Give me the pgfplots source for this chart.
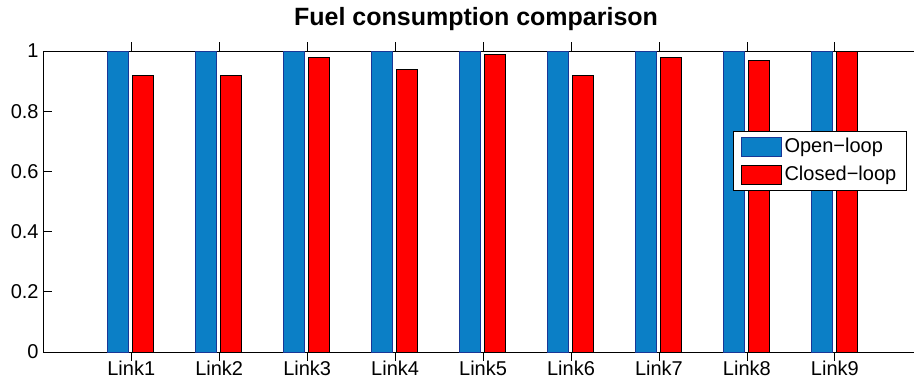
\documentclass[border=0pt]{standalone}
\usepackage{pgfplots}
\pgfplotsset{compat=1.18}
\usepackage{fontspec}
\setmainfont{Liberation Sans}
\definecolor{openblue}{RGB}{11,127,198}
\definecolor{openedge}{RGB}{25,55,150}
\begin{document}
\begin{tikzpicture}
\useasboundingbox (-32.5pt,-20.25pt) rectangle (653pt,264pt);
\begin{axis}[
  at={(0,0)}, anchor=south west,
  scale only axis,
  width=653pt, height=225.75pt,
  xmin=0, xmax=9.9, ymin=0, ymax=1,
  axis x line=box, axis y line=left,
  axis line style={-, line width=0.7pt, black},
  tick align=inside,
  xtick pos=both, ytick pos=left,
  major tick length=6.5pt,
  tick style={line width=0.6pt, black},
  xtick={1,2,3,4,5,6,7,8,9},
  xticklabels={Link1,Link2,Link3,Link4,Link5,Link6,Link7,Link8,Link9},
  ytick={0,0.2,0.4,0.6,0.8,1},
  /pgf/number format/assume math mode=true,
  ticklabel style={font=\fontsize{15}{18}\selectfont},
  xticklabel style={yshift=3.5pt},
  title={\textbf{Fuel consumption comparison}},
  title style={font=\fontsize{18.75}{22}\selectfont, at={(0.497,1)}, anchor=base, yshift=13.5pt},
  ybar, bar width=0.236,
  clip=true,
  legend style={at={(0.9916,0.735)}, anchor=north east, draw=black, line width=0.6pt,
    font=\fontsize{15}{18}\selectfont, cells={anchor=west}, row sep=4.5pt,
    inner xsep=5.5pt, inner ysep=3.5pt},
  legend image code/.code={\draw[#1, line width=0.6pt] (0pt,-7.1pt) rectangle (30pt,7.1pt);},
]
\addplot[bar shift=-0.149, fill=openblue, draw=openedge, line width=0.6pt]
  coordinates {(1,1) (2,1) (3,1) (4,1) (5,1) (6,1) (7,1) (8,1) (9,1)};
\addplot[bar shift=0.136, fill=red, draw=black, line width=0.6pt]
  coordinates {(1,0.92) (2,0.92) (3,0.98) (4,0.94) (5,0.99) (6,0.92) (7,0.98) (8,0.97) (9,1)};
\legend{Open−loop, Closed−loop}
\end{axis}
\end{tikzpicture}
\end{document}
